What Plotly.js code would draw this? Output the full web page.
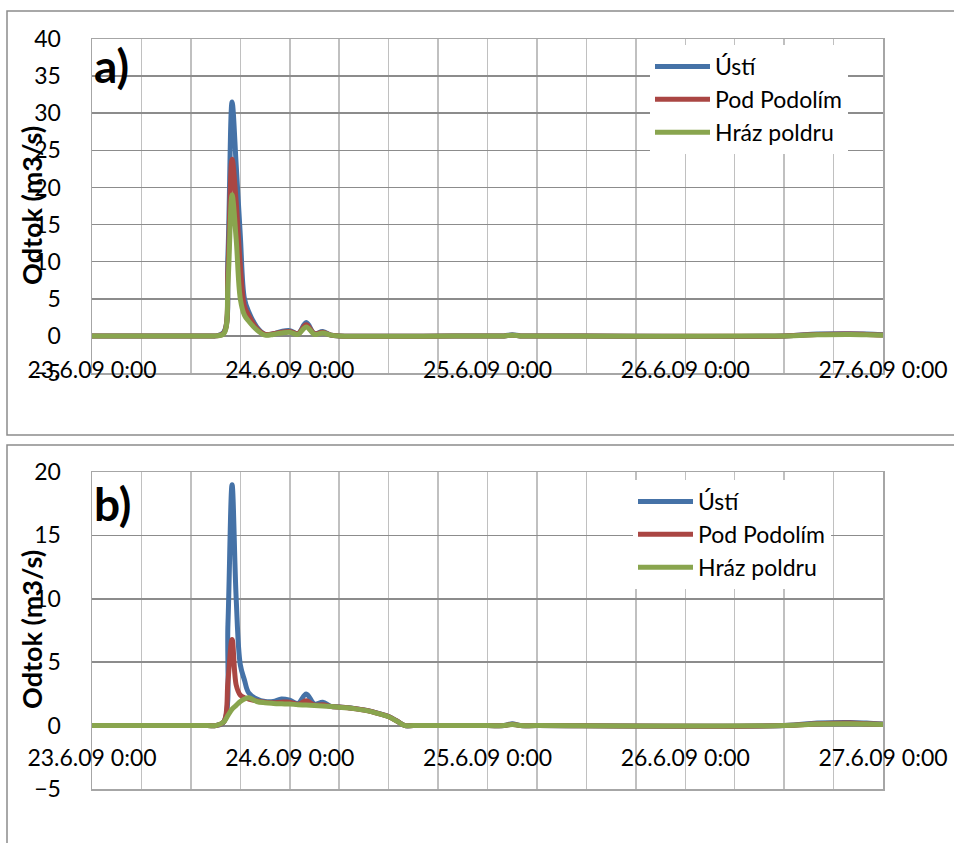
<!DOCTYPE html>
<html>
<head>
<meta charset="utf-8">
<script src="https://cdn.plot.ly/plotly-3.0.1.min.js"></script>
<style>
  html, body { margin: 0; padding: 0; background: #ffffff; }
  #chart { width: 954px; height: 843px; }
</style>
</head>
<body>
<div id="chart"></div>
<script>
// Series names
const seriesNames = ['Ústí', 'Pod Podolím', 'Hráz poldru'];
const panelLabels = ['a)', 'b)'];
const yTitle = 'Odtok (m3/s)';

// Panel a) – time stamps and discharge values (m3/s)
const timesA = [
  '2009-06-23 00:00', '2009-06-23 14:00', '2009-06-23 15:00', '2009-06-23 16:00',
  '2009-06-23 16:30', '2009-06-23 17:00', '2009-06-23 17:30', '2009-06-23 18:00',
  '2009-06-23 18:30', '2009-06-23 19:00', '2009-06-23 20:00',
  '2009-06-23 21:00', '2009-06-23 22:00', '2009-06-23 23:00', '2009-06-24 00:00',
  '2009-06-24 01:00', '2009-06-24 02:00', '2009-06-24 03:00', '2009-06-24 04:00',
  '2009-06-24 05:00', '2009-06-24 06:00',
  '2009-06-25 00:00', '2009-06-25 02:00', '2009-06-25 03:00', '2009-06-25 04:00', '2009-06-25 06:00',
  '2009-06-26 12:00', '2009-06-26 16:00', '2009-06-26 20:00', '2009-06-26 22:00', '2009-06-27 00:00'
];
const ustiA   = [0, 0, 0, 0.5, 11, 31.5, 23, 13.5, 5, 3.3, 1.2,
                 0.2, 0.3, 0.6, 0.7, 0.3, 1.8, 0.3, 0.6, 0.1, 0,
                 0, 0, 0.15, 0, 0,  0, 0.25, 0.3, 0.25, 0.15];
const podolA  = [0, 0, 0, 0.4, 9, 23.8, 18, 9.5, 4, 2.8, 1.0,
                 0.2, 0.3, 0.5, 0.6, 0.3, 1.5, 0.3, 0.5, 0.1, 0,
                 0, 0, 0.1, 0, 0,  0, 0.2, 0.25, 0.2, 0.12];
const hrazA   = [0, 0, 0, 0.3, 7, 19, 13, 5, 2.8, 2.0, 0.8,
                 0.1, 0.2, 0.4, 0.5, 0.2, 1.2, 0.2, 0.4, 0.1, 0,
                 0, 0, 0.08, 0, 0,  0, 0.15, 0.2, 0.15, 0.1];

// Panel b) – time stamps and discharge values (m3/s)
const timesB = [
  '2009-06-23 00:00',
  '2009-06-23 14:00', '2009-06-23 15:00', '2009-06-23 16:00', '2009-06-23 16:30',
  '2009-06-23 17:00', '2009-06-23 17:30', '2009-06-23 18:00', '2009-06-23 18:30',
  '2009-06-23 19:00', '2009-06-23 20:00', '2009-06-23 21:00',
  '2009-06-23 22:00', '2009-06-23 23:00', '2009-06-24 00:00', '2009-06-24 01:00',
  '2009-06-24 02:00', '2009-06-24 03:00', '2009-06-24 04:00', '2009-06-24 05:00',
  '2009-06-24 06:00', '2009-06-24 07:00', '2009-06-24 08:00', '2009-06-24 09:00',
  '2009-06-24 10:00', '2009-06-24 11:00', '2009-06-24 12:00', '2009-06-24 13:00',
  '2009-06-24 14:00', '2009-06-24 15:00',
  '2009-06-25 00:00', '2009-06-25 02:00', '2009-06-25 03:00', '2009-06-25 04:00', '2009-06-25 06:00',
  '2009-06-26 12:00', '2009-06-26 16:00', '2009-06-26 20:00', '2009-06-26 22:00', '2009-06-27 00:00'
];
const ustiB  = [0,
  0, 0, 0.3, 8, 19, 10, 4.8, 3.6, 2.6, 2.1, 1.9,
  1.9, 2.1, 2.0, 1.75, 2.5, 1.7, 1.85, 1.52,
  1.47, 1.42, 1.34, 1.24, 1.1, 0.92, 0.72, 0.37, 0, 0,
  0, 0, 0.15, 0, 0,  0, 0.2, 0.25, 0.2, 0.12];
const podolB = [0,
  0, 0, 0.3, 3.5, 6.8, 3.2, 2.4, 2.2, 2.1, 1.95, 1.85,
  1.8, 1.85, 1.85, 1.68, 1.95, 1.62, 1.65, 1.51,
  1.46, 1.41, 1.33, 1.23, 1.09, 0.91, 0.71, 0.36, 0, 0,
  0, 0, 0.1, 0, 0,  0, 0.15, 0.2, 0.15, 0.1];
const hrazB  = [0,
  0, 0, 0.3, 0.8, 1.3, 1.6, 1.9, 2.1, 2.2, 1.9, 1.8,
  1.75, 1.72, 1.7, 1.65, 1.62, 1.58, 1.54, 1.5,
  1.45, 1.4, 1.32, 1.22, 1.08, 0.9, 0.7, 0.35, 0, 0,
  0, 0, 0.08, 0, 0,  0, 0.12, 0.15, 0.12, 0.08];

const colors = ['#4572A7', '#AA4643', '#89A54E'];
const FONT = 'Lato, "Open Sans", sans-serif';
const W = 954, H = 843;
const px = v => v / W;          // horizontal pixel -> paper
const py = v => 1 - v / H;      // vertical pixel -> paper

function makeTraces(times, sets, xa, ya, legendId) {
  return sets.map((ys, i) => ({
    type: 'scatter', mode: 'lines',
    x: times, y: ys, name: seriesNames[i],
    xaxis: xa, yaxis: ya, legend: legendId,
    line: { color: colors[i], width: 5, shape: 'spline', smoothing: 1 },
    hoverinfo: 'skip'
  }));
}

const traces = [
  ...makeTraces(timesA, [ustiA, podolA, hrazA], 'x', 'y', 'legend'),
  ...makeTraces(timesB, [ustiB, podolB, hrazB], 'x2', 'y2', 'legend2')
];

function xAxis(anchor, standoff) {
  return {
    anchor: anchor,
    domain: [px(92), px(883)],
    type: 'date',
    range: ['2009-06-23 00:00', '2009-06-27 00:00'],
    tick0: '2009-06-23 00:00',
    dtick: 86400000,
    tickformat: '%-d.%-m.%y %-H:%M',
    ticks: '',
    ticklabelstandoff: standoff,
    tickfont: { family: FONT, size: 23, color: '#000' },
    showgrid: true, gridcolor: '#c0c0c0', gridwidth: 1.5,
    minor: { dtick: 21600000, tick0: '2009-06-23 00:00', showgrid: true, gridcolor: '#c0c0c0', gridwidth: 1.5 },
    showline: true, mirror: true, linecolor: '#a6a6a6', linewidth: 1.5,
    zeroline: false, fixedrange: true
  };
}
function yAxis(anchor, dom, range) {
  return {
    anchor: anchor,
    domain: dom,
    range: range,
    dtick: 5,
    ticks: '',
    ticklabelstandoff: 25,
    tickfont: { family: FONT, size: 23, color: '#000' },
    showgrid: true, gridcolor: '#8c8c8c', gridwidth: 1.5,
    showline: true, mirror: true, linecolor: '#a6a6a6', linewidth: 1.5,
    zeroline: true, zerolinecolor: '#868686', zerolinewidth: 2,
    fixedrange: true
  };
}

const legendBase = {
  xanchor: 'left', yanchor: 'top',
  bgcolor: '#ffffff', borderwidth: 0,
  font: { family: FONT, size: 23, color: '#000' },
  itemwidth: 55, tracegroupgap: 0
};

const layout = {
  width: W, height: H,
  margin: { l: 0, r: 0, t: 0, b: 0 },
  paper_bgcolor: '#ffffff', plot_bgcolor: '#ffffff',
  showlegend: true,
  xaxis: xAxis('y', -24),
  yaxis: yAxis('x', [py(373), py(39)], [-5, 40]),
  xaxis2: xAxis('y2', -52),
  yaxis2: yAxis('x2', [py(789), py(472)], [-5, 20]),
  legend: Object.assign({ x: px(650), y: py(45) }, legendBase),
  legend2: Object.assign({ x: px(633), y: py(480) }, legendBase),
  shapes: [
    { type: 'rect', xref: 'paper', yref: 'paper', x0: px(7), x1: 1.05, y0: py(435), y1: py(11),
      line: { color: '#8c8c8c', width: 1.5 }, layer: 'below' },
    { type: 'rect', xref: 'paper', yref: 'paper', x0: px(7), x1: 1.05, y0: -0.05, y1: py(445),
      line: { color: '#8c8c8c', width: 1.5 }, layer: 'below' }
  ],
  annotations: [
    { xref: 'paper', yref: 'paper', x: px(92), y: py(66), xanchor: 'left', yanchor: 'middle',
      text: '<b>' + panelLabels[0] + '</b>', showarrow: false,
      font: { family: FONT, size: 46, color: '#000' } },
    { xref: 'paper', yref: 'paper', x: px(92), y: py(504), xanchor: 'left', yanchor: 'middle',
      text: '<b>' + panelLabels[1] + '</b>', showarrow: false,
      font: { family: FONT, size: 46, color: '#000' } },
    { xref: 'paper', yref: 'paper', x: px(31), y: py(206), xanchor: 'center', yanchor: 'middle',
      text: '<b>' + yTitle + '</b>', textangle: -90, showarrow: false,
      font: { family: FONT, size: 27, color: '#000' } },
    { xref: 'paper', yref: 'paper', x: px(31), y: py(630), xanchor: 'center', yanchor: 'middle',
      text: '<b>' + yTitle + '</b>', textangle: -90, showarrow: false,
      font: { family: FONT, size: 27, color: '#000' } }
  ]
};

Plotly.newPlot('chart', traces, layout, { staticPlot: true, displayModeBar: false });
</script>
</body>
</html>
